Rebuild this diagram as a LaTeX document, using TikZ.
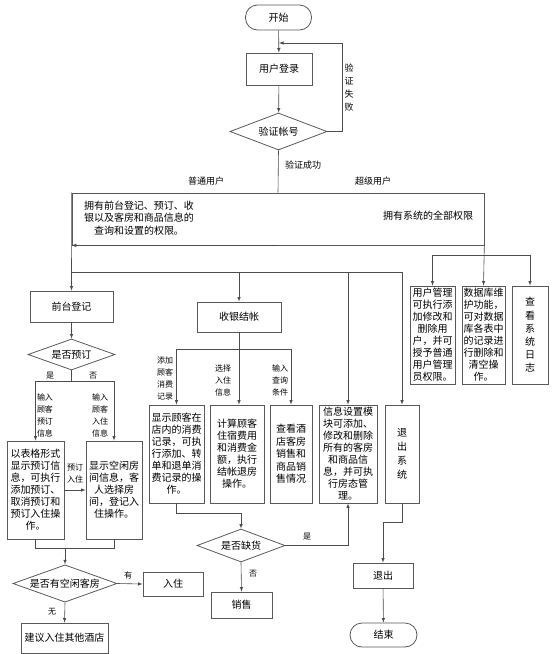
\documentclass[tikz,border=0pt]{standalone}
\usepackage{fontspec}
\setmainfont{Noto Sans CJK SC}
\usetikzlibrary{shapes.geometric}
\begin{document}
\begin{tikzpicture}[x=1pt,y=-1pt,
    box/.style={draw=black!65,line width=0.8pt,inner sep=0pt,align=center,font=\fontsize{10}{12}\selectfont},
    term/.style={box,rounded corners=12pt},
    decision/.style={draw=black!65,line width=0.8pt,shape=diamond,aspect=2.5,inner sep=0pt,font=\fontsize{10}{12}\selectfont},
    note/.style={inner sep=0pt,align=center,font=\fontsize{9}{13}\selectfont},
    tag/.style={inner sep=0pt,align=center,font=\fontsize{8}{12}\selectfont},
    wire/.style={black!70,line width=0.6pt},
    flow/.style={wire,-latex}
]
\useasboundingbox (0,0) rectangle (557,654);

% login part
\node[term,minimum width=66,minimum height=25] (start)  at (278.5,17.5) {开始};
\node[box,minimum width=66,minimum height=32]  (login)  at (279,69)     {用户登录};
\node[decision,minimum width=97,minimum height=37] (verify) at (278.5,131.5) {验证帐号};
\coordinate (back) at (279,43);
\node[note] (fail) at (349,88) {验\\证\\失\\败};
\node[note] (ok)   at (303,165) {验证成功};
\node[note] (normal) at (206,181) {普通用户};
\node[note] (super)  at (373,181) {超级用户};

% rights
\node[draw=black!65,line width=0.7pt,minimum width=412,minimum height=52,inner sep=0pt] (rights) at (278,219) {};
\node[note,font=\fontsize{10}{12.5}\selectfont] (normtext)  at (139,218) {拥有前台登记、预订、收\\银以及客房和商品信息的\\查询和设置的权限。};
\node[note,font=\fontsize{10}{12.5}\selectfont] (supertext) at (428,216) {拥有系统的全部权限};
\coordinate (bus)  at (72,272);
\coordinate (rbus) at (484,255);

% super user boxes
\node[box,minimum width=45,minimum height=98] (usermgr) at (432.5,335) {用户管理\\可执行添\\加修改和\\删除用\\户，并可\\授予普通\\用户管理\\员权限。};
\node[box,minimum width=43,minimum height=98] (dbmaint) at (483.5,335) {数据库维\\护功能，\\可对数据\\库各表中\\的记录进\\行删除和\\清空操\\作。};
\node[box,minimum width=36,minimum height=98,font=\fontsize{10}{13.2}\selectfont] (syslog) at (530,335) {查\\看\\系\\统\\日\\志};

% front desk
\node[box,minimum width=83,minimum height=31] (desk) at (71.5,306.5) {前台登记};
\node[decision,minimum width=87,minimum height=31] (booked) at (71.5,354.5) {是否预订};
\coordinate (bsplit) at (71.5,381);
\node[tag] (yes1) at (50,376) {是};
\node[tag] (no1)  at (93,376) {否};
\node[tag] (inbook) at (45,415)  {输入\\顾客\\预订\\信息};
\node[tag] (instay) at (100,415) {输入\\顾客\\入住\\信息};
\node[box,minimum width=57,minimum height=98] (booklist) at (35.5,490) {以表格形式\\显示预订信\\息，可执行\\添加预订、\\取消预订和\\预订入住操\\作。};
\node[box,minimum width=56,minimum height=98] (freeroom) at (114,490) {显示空闲房\\间信息，客\\人选择房\\间，登记入\\住操作。};
\node[tag] (bookin) at (75,474) {预订\\入住};
\coordinate (merge) at (65,548);
\node[decision,minimum width=104,minimum height=33] (vacant) at (65,583.5) {是否有空闲客房};
\node[box,minimum width=60,minimum height=24] (checkin) at (173,584) {入住};
\node[tag] (have) at (128,575) {有};
\node[tag] (none) at (52,612)  {无};
\node[box,minimum width=87,minimum height=30] (other) at (64.5,638) {建议入住其他酒店};

% cashier
\node[box,minimum width=84,minimum height=30] (cashier) at (239,317) {收银结帐};
\coordinate (csplit) at (239,349);
\node[tag] (addrec)  at (165,378) {添加\\顾客\\消费\\记录};
\node[tag] (selstay) at (223,380) {选择\\入住\\信息};
\node[tag] (query)   at (280,380) {输入\\查询\\条件};
\node[box,minimum width=55,minimum height=98] (consume) at (176.5,454) {显示顾客在\\店内的消费\\记录，可执\\行添加、转\\单和退单消\\费记录的操\\作。};
\node[box,minimum width=54,minimum height=98] (settle)  at (237,454)   {计算顾客\\住宿费用\\和消费金\\额，执行\\结帐退房\\操作。};
\node[box,minimum width=42,minimum height=98,font=\fontsize{10}{12.5}\selectfont] (sales) at (291,454) {查看酒\\店客房\\销售和\\商品销\\售情况};
\node[box,minimum width=58,minimum height=98] (infoset) at (348,454) {信息设置模\\块可添加、\\修改和删除\\所有的客房\\和商品信\\息，并可执\\行房态管\\理。};
\node[box,minimum width=34,minimum height=98,font=\fontsize{10}{14}\selectfont] (quit) at (402,454) {退\\出\\系\\统};
\node[decision,minimum width=88,minimum height=33] (stock) at (241,545.5) {是否缺货};
\node[tag] (yes2) at (307,537) {是};
\node[tag] (no2)  at (253,574) {否};
\node[box,minimum width=61,minimum height=26] (sell) at (241.5,605) {销售};
\node[box,minimum width=60,minimum height=25] (exit) at (383,575.5) {退出};
\node[term,minimum width=67,minimum height=24] (finish) at (383.5,635) {结束};

% connectors
\draw[flow] (start) -- (login);
\draw[flow] (login) -- (verify);
\draw[flow] (verify.east) -- ++(15,0) |- (back);
\draw[wire] (verify.south) -- (rights.north);
\draw[flow] (rights.south) -- (rights.south west);
\draw[flow] (rights.north west) -- (desk.north);
\draw[flow] (bus) -| (cashier.north);
\draw[flow] (bus) -| (infoset.north);
\draw[flow] (bus) -| (quit.north);
\draw[flow] (rights.south east) -- (dbmaint.north);
\draw[flow] (rbus) -| (usermgr.north);
\draw[flow] (rbus) -| (syslog.north);

\draw[flow] (desk) -- (booked);
\draw[wire] (booked.south) -- (bsplit);
\draw[flow] (bsplit) -| (booklist.north);
\draw[flow] (bsplit) -| (freeroom.north);
\draw[flow] (booklist) -- (freeroom);
\draw[wire] (booklist.south) |- (merge);
\draw[wire] (freeroom.south) |- (merge);
\draw[flow] (merge) -- (vacant.north);
\draw[flow] (vacant.east) -- (checkin.west);
\draw[flow] (vacant.south) -- (other.north);

\draw[wire] (cashier.south) -- (csplit);
\draw[flow] (csplit) -| (consume.north);
\draw[flow] (csplit) -- (settle.north -| csplit);
\draw[flow] (csplit) -| (sales.north);
\draw[flow] (consume.south) -- ++(0,10) -| (stock.north);
\draw[flow] (stock.east) -| (infoset.south);
\draw[flow] (stock.south) -- (sell.north);
\draw[flow] (quit.south) -- ++(0,19) -| (exit.north);
\draw[flow] (exit) -- (finish);
\end{tikzpicture}
\end{document}
